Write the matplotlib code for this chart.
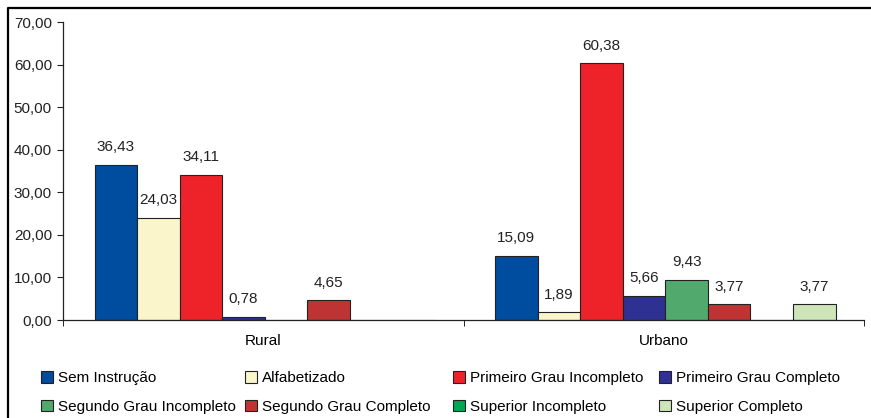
import numpy as np
import matplotlib
matplotlib.use("Agg")
import matplotlib.pyplot as plt
from matplotlib.lines import Line2D

plt.rcParams['font.family'] = ['Liberation Sans', 'DejaVu Sans']

categories = ["Rural", "Urbano"]
series_names = ["Sem Instrução", "Alfabetizado", "Primeiro Grau Incompleto",
                "Primeiro Grau Completo", "Segundo Grau Incompleto",
                "Segundo Grau Completo", "Superior Incompleto", "Superior Completo"]
rural = [36.43, 24.03, 34.11, 0.78, None, 4.65, None, None]
urbano = [15.09, 1.89, 60.38, 5.66, 9.43, 3.77, None, 3.77]
colors = ["#004C9E", "#FBF5CC", "#EE2229", "#2E3192", "#52A96E",
          "#BE3434", "#00A651", "#CDE5B8"]
yticks = [0, 10, 20, 30, 40, 50, 60, 70]

FS = 11
W, H = 871, 418
fig = plt.figure(figsize=(W / 100, H / 100), dpi=100)
ax = fig.add_axes([63 / W, 1 - 320 / H, (864 - 63) / W, (320 - 22) / H])

n = len(series_names)
bw = 0.85 / n
x = np.arange(len(categories))
handles = []
for i, name in enumerate(series_names):
    vals = [rural[i], urbano[i]]
    v = np.array([np.nan if a is None else a for a in vals], dtype=float)
    pos = x - 0.421 + bw * (i + 0.5)
    b = ax.bar(pos, np.nan_to_num(v, nan=0.0), width=bw, color=colors[i],
               edgecolor="#222222", linewidth=0.8, label=name)
    handles.append(b)
    for p, val in zip(pos, v):
        if not np.isnan(val):
            ax.annotate(f"{val:.2f}".replace(".", ","), (p, val),
                        xytext=(0, 7.5), textcoords="offset points",
                        ha="center", va="bottom", fontsize=FS, color="#222222")

ax.set_xlim(-0.5, 1.5)
ax.set_ylim(0, 70)
ax.set_yticks(yticks)
ax.set_yticklabels([f"{t:.2f}".replace(".", ",") for t in yticks], fontsize=FS)
ax.set_xticks(x)
ax.set_xticklabels(categories, fontsize=FS)
ax.tick_params(axis="x", length=0, pad=10)
ax.set_xticks([-0.5, 0.5, 1.5], minor=True)
ax.tick_params(axis="x", which="minor", length=4, direction="out")
ax.tick_params(axis="y", length=4, direction="out", pad=4, colors="#222222")
for s in ["top", "right"]:
    ax.spines[s].set_visible(False)
for s in ["left", "bottom"]:
    ax.spines[s].set_color("#222222")
    ax.spines[s].set_linewidth(0.9)

# legend: 4 equally spaced columns, row-major order
col_x = [43, 247, 455, 661]
for c in range(4):
    idx = [c, c + 4]
    leg = fig.legend([handles[k] for k in idx], [series_names[k] for k in idx],
                     loc="upper left",
                     bbox_to_anchor=((col_x[c] - 2) / W, 1 - 371 / H),
                     frameon=False, fontsize=FS, handlelength=0.8,
                     handleheight=0.8, handletextpad=0.3, labelspacing=0.95,
                     borderaxespad=0, borderpad=0)

# figure border (left and top visible)
fig.add_artist(Line2D([8 / W, 8 / W, 1.0], [0.0, 1 - 8 / H, 1 - 8 / H],
                      transform=fig.transFigure, color="black", linewidth=1.6))

fig.savefig("out.png", dpi=100)
